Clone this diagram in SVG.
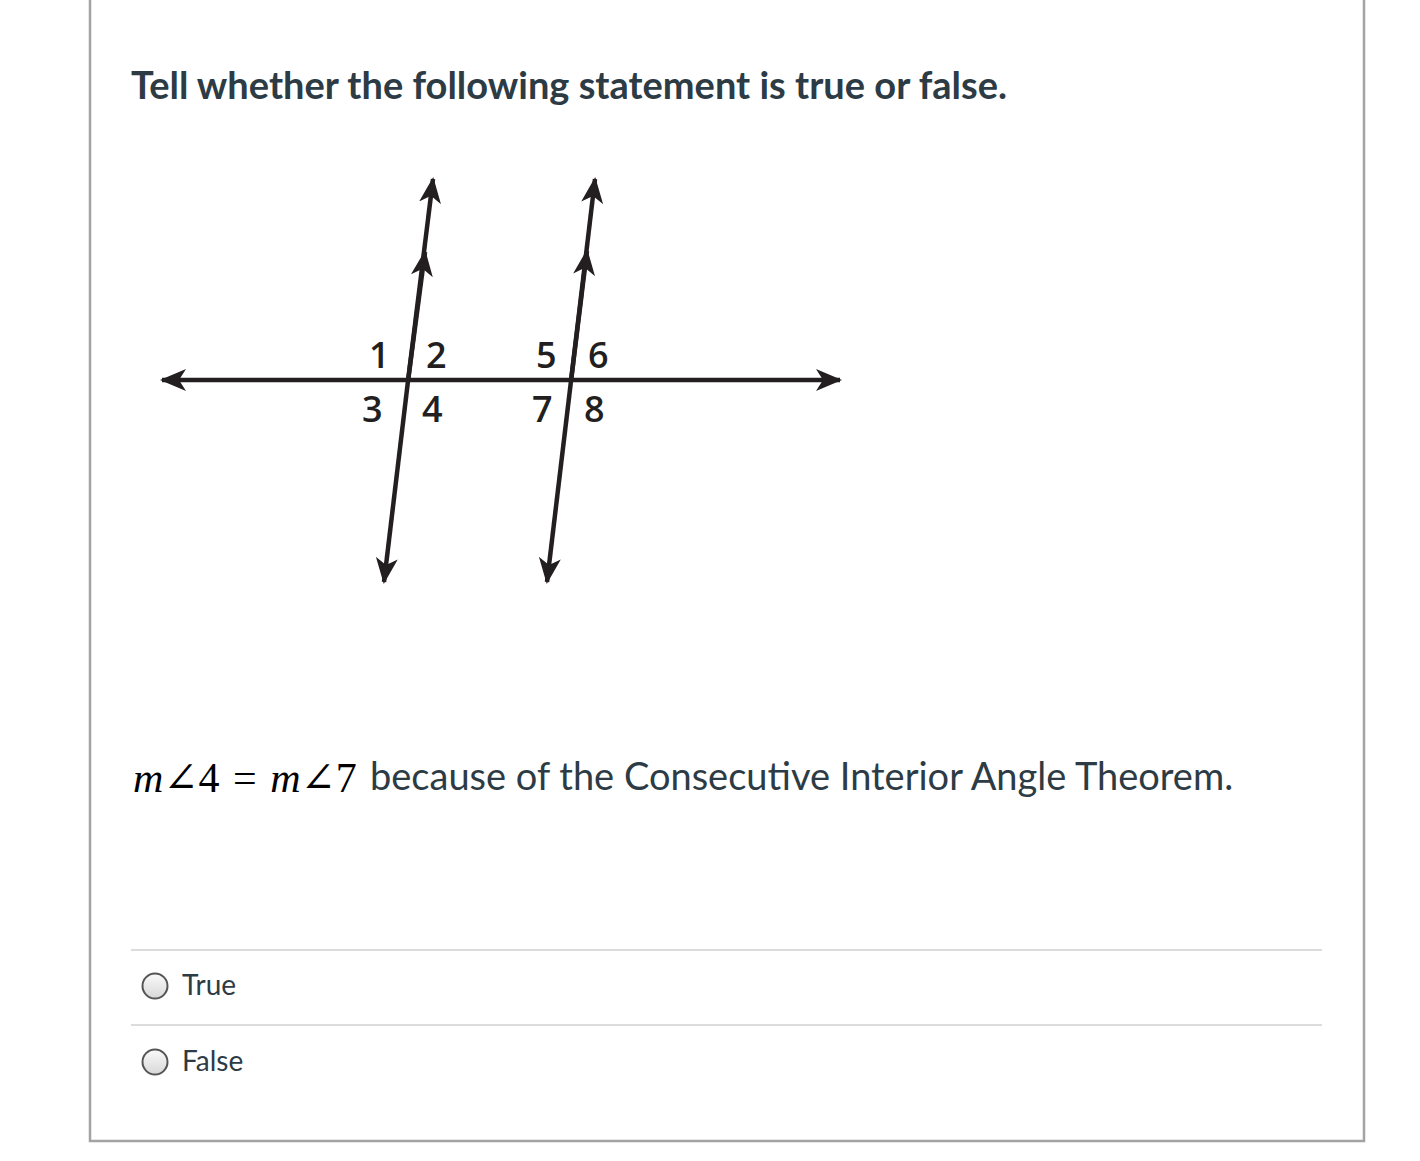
<svg xmlns="http://www.w3.org/2000/svg" width="1420" height="1161" viewBox="0 0 1420 1161">
<style>
.txt{font-family:Lato,"Open Sans","Liberation Sans",sans-serif;fill:#2d3b45}
.lbl{font-family:"Open Sans","Liberation Sans",sans-serif;font-size:36px;font-weight:600;fill:#231f20}
.ln{stroke:#231f20;stroke-width:4.5;fill:none}
.sep{stroke:#dcdcdc;stroke-width:2}
.math{font-family:"Liberation Serif","DejaVu Serif",serif;font-size:42px;fill:#000}
</style>
<defs>
<marker id="ah" viewBox="0 0 26 22" refX="24" refY="11" markerWidth="26" markerHeight="22" markerUnits="userSpaceOnUse" orient="auto">
<path d="M0,0 L26,11 L0,22 L7,11 Z" fill="#231f20"/>
</marker>
<linearGradient id="rg" x1="0" y1="0" x2="0" y2="1"><stop offset="0" stop-color="#fafafa"/><stop offset="1" stop-color="#d8d8d8"/></linearGradient>
</defs>
<rect x="0" y="0" width="1420" height="1161" fill="#fff"/>
<path d="M90,0 V1141 H1364 V0" fill="none" stroke="#a3a3a3" stroke-width="2.5"/>
<g id="title"><text class="txt" x="131" y="99" font-size="38" font-weight="bold">Tell whether the following statement is true or false.</text></g>
<g id="connectors">
<line class="ln" x1="240" y1="380" x2="162" y2="380" marker-end="url(#ah)"/>
<line class="ln" x1="240" y1="380" x2="840" y2="380" marker-end="url(#ah)"/>
<line class="ln" x1="408" y1="381" x2="433" y2="179" marker-end="url(#ah)"/>
<line class="ln" x1="408" y1="381" x2="384" y2="582" marker-end="url(#ah)"/>
<line class="ln" x1="571" y1="381" x2="595" y2="179" marker-end="url(#ah)"/>
<line class="ln" x1="571" y1="381" x2="547" y2="582" marker-end="url(#ah)"/>
<line class="ln" x1="408" y1="381" x2="425" y2="252" marker-end="url(#ah)"/>
<line class="ln" x1="571" y1="381" x2="587" y2="251" marker-end="url(#ah)"/>
</g>
<g id="labels">
<text class="lbl" x="369" y="368">1</text>
<text class="lbl" x="426" y="368">2</text>
<text class="lbl" x="362" y="422">3</text>
<text class="lbl" x="422" y="422">4</text>
<text class="lbl" x="536" y="368">5</text>
<text class="lbl" x="588" y="368">6</text>
<text class="lbl" x="532" y="422">7</text>
<text class="lbl" x="584" y="422">8</text>
</g>
<g id="statement">
<text class="math" x="133" y="792"><tspan font-style="italic">m</tspan>∠4 <tspan dx="3">=</tspan> <tspan dx="3" font-style="italic">m</tspan>∠7</text>
<text class="txt" x="370" y="790" font-size="38">because of the Consecutive Interior Angle Theorem.</text>
</g>
<g id="options">
<line class="sep" x1="131" y1="950" x2="1322" y2="950"/>
<line class="sep" x1="131" y1="1025" x2="1322" y2="1025"/>
<g id="opt-true">
<circle cx="155" cy="986" r="12.5" fill="url(#rg)" stroke="#555" stroke-width="2"/>
<text class="txt" x="182" y="995" font-size="28">True</text>
</g>
<g id="opt-false">
<circle cx="155" cy="1062" r="12.5" fill="url(#rg)" stroke="#555" stroke-width="2"/>
<text class="txt" x="182" y="1071" font-size="28">False</text>
</g>
</g>
</svg>
